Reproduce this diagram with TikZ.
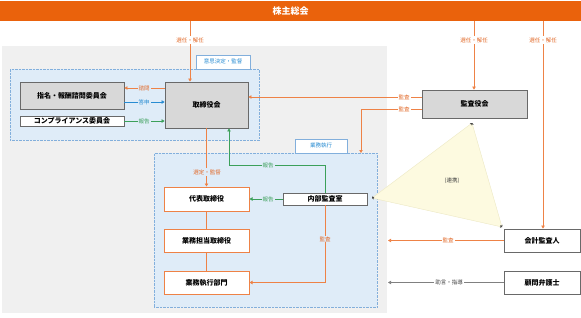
\documentclass[tikz,border=0pt]{standalone}
\usepackage{fontspec}
\setmainfont{Noto Sans CJK JP}
\usetikzlibrary{arrows.meta,calc}

\definecolor{barorange}{RGB}{234,98,12}
\definecolor{lineorange}{RGB}{238,130,70}
\definecolor{txtorange}{RGB}{226,105,40}
\definecolor{lineblue}{RGB}{40,140,210}
\definecolor{linegreen}{RGB}{60,160,90}
\definecolor{bggray}{RGB}{240,240,240}
\definecolor{bgblue}{RGB}{223,236,248}
\definecolor{dotblue}{RGB}{130,175,220}
\definecolor{boxgray}{RGB}{216,216,216}
\definecolor{edgegray}{RGB}{105,105,105}
\definecolor{tripale}{RGB}{253,250,224}
\definecolor{triedge}{RGB}{236,232,196}

\newcommand{\boxsize}{\fontsize{7}{8}\selectfont\bfseries}
\newcommand{\lblsize}{\fontsize{5.5}{6}\selectfont}

\tikzset{
  tip/.style={-{Triangle[length=3pt,width=3.4pt]}},
  graybox/.style={draw=edgegray, line width=0.8pt, fill=boxgray, inner sep=0pt, font=\boxsize},
  whitebox/.style={draw=edgegray, line width=0.8pt, fill=white, inner sep=0pt, font=\boxsize},
  orgbox/.style={draw=lineorange, line width=1pt, fill=white, inner sep=0pt, font=\boxsize},
  area/.style={draw=dotblue, densely dotted, fill=bgblue, anchor=north west, inner sep=0pt},
  tabbox/.style={draw=dotblue, fill=white, anchor=south west, inner sep=0pt, text=lineblue, font=\lblsize},
  lbl/.style={inner sep=1pt, font=\lblsize},
  oline/.style={draw=lineorange, line width=0.6pt},
  gline/.style={draw=linegreen, line width=0.6pt},
  bline/.style={draw=lineblue, line width=0.6pt},
  kline/.style={draw=gray, line width=0.6pt},
  cornertip/.style={triedge, {Stealth[length=2pt,width=2.2pt,color=darkgray]}-{Stealth[length=2pt,width=2.2pt,color=darkgray]}}
}

\begin{document}
\begin{tikzpicture}[x=1pt,y=-1pt]
  \useasboundingbox (0,0) rectangle (581,317);
  \fill[bggray] (2,46) rectangle (387,313);

  \node[fill=barorange, minimum width=581pt, minimum height=20.5pt, anchor=north west, inner sep=0pt,
        text=white, font=\fontsize{9}{10}\selectfont\bfseries] (kabunushi) at (0,0.5) {株主総会};

  % areas
  \node[area, minimum width=249pt, minimum height=71pt] (kettei) at (10,69) {};
  \node[tabbox, minimum width=54pt, minimum height=14pt] (ketteitab) at (196,69) {意思決定・監督};
  \node[area, minimum width=223pt, minimum height=154pt] (shikko) at (154,153) {};
  \node[tabbox, minimum width=52pt, minimum height=14pt] (shikkotab) at (295,153) {業務執行};

  \coordinate (C1) at (72,95.5);
  \coordinate (C2) at (72,121);
  \coordinate (C3) at (206.5,105);
  \coordinate (C4) at (474.5,104);
  \coordinate (C5) at (206.5,199);
  \coordinate (C6) at (206.5,240.5);
  \coordinate (C7) at (206.5,282.5);
  \coordinate (C8) at (325,199);
  \coordinate (C9) at (542,240.5);
  \coordinate (C10) at (542,282.5);

  \node[graybox, minimum width=104pt, minimum height=27pt] (shimei) at (C1) {指名・報酬諮問委員会};
  \node[whitebox, minimum width=104pt, minimum height=10pt] (compl) at (C2) {コンプライアンス委員会};
  \node[graybox, minimum width=83pt, minimum height=46pt] (torikai) at (C3) {取締役会};
  \node[graybox, minimum width=105pt, minimum height=28pt] (kansakai) at (C4) {監査役会};
  \node[orgbox, minimum width=85pt, minimum height=24pt] (daihyo) at (C5) {代表取締役};
  \node[orgbox, minimum width=85pt, minimum height=23pt] (tanto) at (C6) {業務担当取締役};
  \node[orgbox, minimum width=85pt, minimum height=23pt] (bumon) at (C7) {業務執行部門};
  \node[whitebox, minimum width=84pt, minimum height=12pt] (naibu) at (C8) {内部監査室};
  \node[whitebox, minimum width=76pt, minimum height=23pt] (kaikei) at (C9) {会計監査人};
  \node[whitebox, minimum width=76pt, minimum height=23pt] (bengo) at (C10) {顧問弁護士};

  % rows and free ends
  \coordinate (S1) at (190,21);
  \coordinate (S2) at (474,21);
  \coordinate (S3) at (543,21);
  \coordinate (R1) at (0,88);
  \coordinate (R2) at (0,102);
  \coordinate (R3) at (0,97);
  \coordinate (R4) at (0,109);
  \coordinate (K1) at (361,109);
  \coordinate (H1) at (325,165);
  \coordinate (H2) at (229,165);
  \coordinate (K2) at (325,282.5);
  \coordinate (E1) at (388,240.5);
  \coordinate (E2) at (388,282.5);

  \draw[oline,tip] (S1) -- (S1 |- torikai.north);
  \draw[oline,tip] (S2) -- (S2 |- kansakai.north);
  \draw[oline,tip] (S3) -- (S3 |- kaikei.north);

  \draw[oline,tip] (torikai.west |- R1) -- (shimei.east |- R1);
  \draw[bline,tip] (shimei.east |- R2) -- (torikai.west |- R2);
  \draw[gline,tip] (compl.east) -- (torikai.west |- compl.east);

  \draw[oline,tip] (kansakai.west |- R3) -- (torikai.east |- R3);
  \draw[oline,tip] (kansakai.west |- R4) -- (K1) -- (K1 |- shikko.north);

  \draw[oline,tip] (torikai.south) -- (daihyo.north);
  \draw[gline,tip] (naibu.north) -- (H1) -- (H2) -- (H2 |- torikai.south);
  \draw[gline,tip] (naibu.west) -- (daihyo.east);
  \draw[oline] (daihyo.south) -- (tanto.north);
  \draw[oline] (tanto.south) -- (bumon.north);
  \draw[oline,tip] (naibu.south) -- (K2) -- (bumon.east);

  \draw[oline,tip] (kaikei.west) -- (E1);
  \draw[kline,tip] (bengo.west) -- (E2);

  % renkei
  \coordinate (T1) at (372,198);
  \coordinate (T2) at (472,123);
  \coordinate (T3) at (502,227);
  \fill[tripale] (T1) -- (T2) -- (T3) -- cycle;
  \draw[cornertip] (T1) -- (T2);
  \draw[cornertip] (T2) -- (T3);
  \draw[cornertip] (T3) -- (T1);

  \coordinate (L1) at (190,40);
  \coordinate (L2) at (474,40);
  \coordinate (L3) at (543,40);
  \coordinate (L4) at (144,88);
  \coordinate (L5) at (144,102);
  \coordinate (L6) at (144,121);
  \coordinate (L7) at (404,97);
  \coordinate (L8) at (404,109);
  \coordinate (L9) at (207,172);
  \coordinate (L10) at (268,165);
  \coordinate (L11) at (268,199);
  \coordinate (L12) at (325,239);
  \coordinate (L13) at (448,240.5);
  \coordinate (L14) at (449,282.5);
  \coordinate (L15) at (452,181);

  \node[lbl, fill=white, text=txtorange] (l1) at (L1) {選任・解任};
  \node[lbl, fill=white, text=txtorange] (l2) at (L2) {選任・解任};
  \node[lbl, fill=white, text=txtorange] (l3) at (L3) {選任・解任};
  \node[lbl, fill=bgblue, text=txtorange] (l4) at (L4) {諮問};
  \node[lbl, fill=bgblue, text=lineblue] (l5) at (L5) {答申};
  \node[lbl, fill=bgblue, text=linegreen] (l6) at (L6) {報告};
  \node[lbl, fill=white, text=txtorange] (l7) at (L7) {監査};
  \node[lbl, fill=white, text=txtorange] (l8) at (L8) {監査};
  \node[lbl, fill=bgblue, text=txtorange] (l9) at (L9) {選定・監督};
  \node[lbl, fill=bgblue, text=linegreen] (l10) at (L10) {報告};
  \node[lbl, fill=bgblue, text=linegreen] (l11) at (L11) {報告};
  \node[lbl, fill=bgblue, text=txtorange] (l12) at (L12) {監査};
  \node[lbl, fill=white, text=txtorange] (l13) at (L13) {監査};
  \node[lbl, fill=white, text=darkgray] (l14) at (L14) {助言・指導};
  \node[lbl, text=darkgray] (l15) at (L15) {(連携)};
\end{tikzpicture}
\end{document}
